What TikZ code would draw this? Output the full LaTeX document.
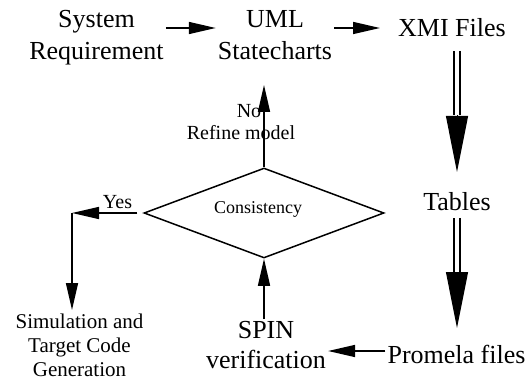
\documentclass[tikz,border=0pt]{standalone}
\usepackage{fontspec}
\setmainfont{Liberation Serif}
\usetikzlibrary{arrows.meta,shapes.geometric}
\tikzset{
  big/.style={font=\fontsize{26}{32}\selectfont, align=center, inner sep=2pt, anchor=base},
  mid/.style={font=\fontsize{21}{24}\selectfont, align=center, inner sep=0pt, anchor=base},
  lbl/.style={font=\fontsize{20}{22}\selectfont, inner sep=0pt, anchor=base},
  arr/.style={line width=1.5pt, -{Triangle[length=27pt,width=12pt]}},
  shaft/.style={double, double distance=3.5pt, line width=2pt},
  bighead/.style={line width=1pt, -{Triangle[length=56pt,width=22pt]}},
  dia/.style={draw, diamond, line width=1.5pt, minimum width=240pt, minimum height=90pt, inner sep=0pt}
}
\begin{document}
\begin{tikzpicture}[x=1pt,y=-1pt]
\useasboundingbox (0,0) rectangle (530,382);
% base anchor of a multi-line node = baseline of its last line
\node[big] (sys) at (96.5,59.5) {System\\Requirement};
\node[big] (uml) at (275,59.5) {UML\\Statecharts};
\node[big] (xmi) at (452,37) {XMI Files};
\node[big] (tab) at (457,211) {Tables};
\node[big] (prom) at (456.5,363) {Promela files};
\node[big, font=\fontsize{26}{30}\selectfont] (spin) at (266,368.5) {SPIN\\verification};
\node[mid] (sim) at (79.5,376) {Simulation and\\Target Code\\Generation};
\node[dia] (d) at (264,213) {};
\node[font=\fontsize{18}{20}\selectfont, anchor=base, inner sep=0pt] (cons) at (258,214) {Consistency};
\node[lbl] (yes) at (117.5,208) {Yes};
\node[lbl] (no) at (249,118) {No};
\node[lbl] (ref) at (241,140) {Refine model};
\coordinate (corner) at (72,213);
\coordinate (h1) at (457,115);
\coordinate (h2) at (457,272);
% arrows
\draw[arr] (sys.east |- 0,28) -- (uml.west |- 0,28);
\draw[arr] (uml.east |- 0,28) -- (380,28);
\draw[shaft] (h1 |- 0,51) -- (h1);
\draw[bighead] (h1) -- (h1 |- 0,172);
\draw[shaft] (h2 |- 0,218) -- (h2);
\draw[bighead] (h2) -- (h2 |- 0,328);
\draw[arr] (prom.west |- 0,351) -- (spin.east |- 0,351);
\draw[arr] (d.south |- spin.north) -- (d.south);
\draw[arr] (d.north) -- (d.north |- 0,85);
\draw[arr] ([xshift=-6pt]d.west) -- (corner);
\draw[arr] (corner) -- (corner |- 0,310);
\end{tikzpicture}
\end{document}
